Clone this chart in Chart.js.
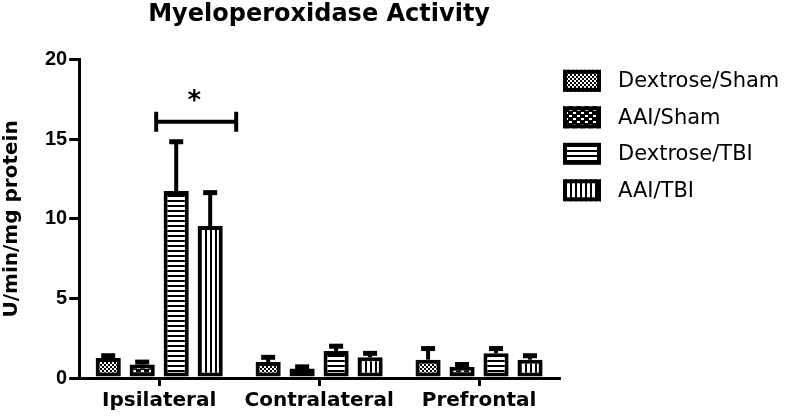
<!DOCTYPE html>
<html>
<head>
<meta charset="utf-8">
<script src="https://cdn.jsdelivr.net/npm/chart.js@4/dist/chart.umd.min.js"></script>
<style>
  html, body { margin: 0; padding: 0; background: #fff; }
  #wrap { width: 792px; height: 416px; }
</style>
</head>
<body>
<div id="wrap"><canvas id="myChart"></canvas></div>
<script>
// data
const categories = ['Ipsilateral', 'Contralateral', 'Prefrontal'];
const seriesNames = ['Dextrose/Sham', 'AAI/Sham', 'Dextrose/TBI', 'AAI/TBI'];

const dextroseSham = [1.25, 1.0, 1.15];
const aaiSham = [0.85, 0.6, 0.7];
const dextroseTbi = [11.75, 1.7, 1.55];
const aaiTbi = [9.55, 1.3, 1.15];

const dextroseShamErr = [0.15, 0.3, 0.7];
const aaiShamErr = [0.15, 0.1, 0.15];
const dextroseTbiErr = [3.1, 0.3, 0.3];
const aaiTbiErr = [2.1, 0.25, 0.25];

const yTicks = [0, 5, 10, 15, 20];

// significance bracket: category index, the two series it joins, height
const sigCategory = 0;
const sigSeries = [2, 3];
const sigValue = 16.1;
const sigLabel = '*';

// fill patterns
function makePattern(w, h, draw) {
  const c = document.createElement('canvas');
  c.width = w; c.height = h;
  const g = c.getContext('2d');
  g.fillStyle = '#fff';
  g.fillRect(0, 0, w, h);
  g.fillStyle = '#000';
  draw(g);
  return c.getContext('2d').createPattern(c, 'repeat');
}

const patterns = [
  // fine checker
  makePattern(4, 4, g => { g.fillRect(0, 0, 2, 2); g.fillRect(2, 2, 2, 2); }),
  // coarse dotted checker
  makePattern(8, 6, g => {
    g.fillRect(0, 0, 8, 6);
    g.fillStyle = '#fff';
    g.fillRect(1, 1, 3, 2);
    g.fillRect(5, 4, 3, 2);
  }),
  // horizontal lines
  makePattern(1, 5, g => { g.fillRect(0, 0, 1, 2); }),
  // vertical lines
  makePattern(5, 1, g => { g.fillRect(0, 0, 2, 1); })
];

const values = [dextroseSham, aaiSham, dextroseTbi, aaiTbi];
const errors = [dextroseShamErr, aaiShamErr, dextroseTbiErr, aaiTbiErr];

const errorBars = {
  id: 'errorBars',
  afterDatasetsDraw(chart) {
    const ctx = chart.ctx;
    const y = chart.scales.y;
    ctx.save();
    ctx.strokeStyle = '#000';
    chart.data.datasets.forEach((ds, i) => {
      const meta = chart.getDatasetMeta(i);
      meta.data.forEach((bar, j) => {
        const top = y.getPixelForValue(ds.data[j] + errors[i][j]);
        ctx.lineWidth = 4;
        ctx.beginPath();
        ctx.moveTo(bar.x, bar.y);
        ctx.lineTo(bar.x, top);
        ctx.stroke();
        ctx.lineWidth = 5;
        ctx.beginPath();
        ctx.moveTo(bar.x - 7, top);
        ctx.lineTo(bar.x + 7, top);
        ctx.stroke();
      });
    });
    ctx.restore();
  }
};

const bracket = {
  id: 'bracket',
  afterDatasetsDraw(chart) {
    const ctx = chart.ctx;
    const a = chart.getDatasetMeta(sigSeries[0]).data[sigCategory];
    const b = chart.getDatasetMeta(sigSeries[1]).data[sigCategory];
    const mid = (a.x + b.x) / 2 + 3;
    const yy = chart.scales.y.getPixelForValue(sigValue);
    const half = 40;
    ctx.save();
    ctx.strokeStyle = '#000';
    ctx.lineWidth = 4;
    ctx.beginPath();
    ctx.moveTo(mid - half, yy);
    ctx.lineTo(mid + half, yy);
    ctx.moveTo(mid - half, yy - 10);
    ctx.lineTo(mid - half, yy + 10);
    ctx.moveTo(mid + half, yy - 10);
    ctx.lineTo(mid + half, yy + 10);
    ctx.stroke();
    ctx.fillStyle = '#000';
    ctx.font = 'bold 26px "DejaVu Sans"';
    ctx.textAlign = 'center';
    ctx.textBaseline = 'middle';
    ctx.fillText(sigLabel, mid - 2, yy - 20);
    ctx.restore();
  }
};

// legend drawn in the space kept free on the right
const sideLegend = {
  id: 'sideLegend',
  afterDraw(chart) {
    const ctx = chart.ctx;
    const x0 = chart.chartArea.right + 4;
    const y0 = chart.chartArea.top + 10;
    const step = 36.5;
    ctx.save();
    ctx.font = '21px "DejaVu Sans"';
    ctx.textBaseline = 'middle';
    ctx.textAlign = 'left';
    chart.data.datasets.forEach((ds, i) => {
      const y = y0 + i * step;
      ctx.fillStyle = ds.backgroundColor;
      ctx.fillRect(x0, y, 38, 22);
      ctx.strokeStyle = '#000';
      ctx.lineWidth = 4;
      ctx.strokeRect(x0 + 2, y + 2, 34, 18);
      ctx.fillStyle = '#000';
      ctx.fillText(ds.label, x0 + 55, y + 12);
    });
    ctx.restore();
  }
};

const ctx = document.getElementById('myChart').getContext('2d');

new Chart(ctx, {
  type: 'bar',
  data: {
    labels: categories,
    datasets: seriesNames.map((name, i) => ({
      label: name,
      data: values[i],
      backgroundColor: patterns[i],
      borderColor: '#000',
      borderWidth: 4,
      borderSkipped: false,
      categoryPercentage: 0.85,
      barPercentage: 0.74
    }))
  },
  options: {
    responsive: true,
    maintainAspectRatio: false,
    animation: false,
    layout: { padding: { left: 0, right: 233, top: 0, bottom: 0 } },
    plugins: {
      title: {
        display: true,
        fullSize: false,
        text: 'Myeloperoxidase Activity',
        color: '#000',
        font: { family: 'DejaVu Sans', size: 24, weight: 'bold' },
        padding: { top: 0, bottom: 31 }
      },
      legend: { display: false },
      tooltip: { enabled: false }
    },
    scales: {
      x: {
        grid: {
          offset: false,
          drawOnChartArea: false,
          drawTicks: true,
          tickLength: 8,
          lineWidth: 3,
          color: '#000'
        },
        border: { display: true, color: '#000', width: 3 },
        ticks: {
          color: '#000',
          padding: 3,
          font: { family: 'DejaVu Sans', size: 20, weight: 'bold' }
        }
      },
      y: {
        min: 0,
        max: 20,
        afterBuildTicks: scale => { scale.ticks = yTicks.map(v => ({ value: v })); },
        grid: {
          drawOnChartArea: false,
          drawTicks: true,
          tickLength: 10,
          lineWidth: 3,
          color: '#000'
        },
        border: { display: true, color: '#000', width: 3 },
        ticks: {
          color: '#000',
          padding: 2,
          font: { family: 'Liberation Sans', size: 20, weight: 'bold' }
        },
        title: {
          display: true,
          text: 'U/min/mg protein',
          color: '#000',
          padding: { top: 0, bottom: 19 },
          font: { family: 'DejaVu Sans', size: 20, weight: 'bold' }
        }
      }
    }
  },
  plugins: [errorBars, bracket, sideLegend]
});
</script>
</body>
</html>
